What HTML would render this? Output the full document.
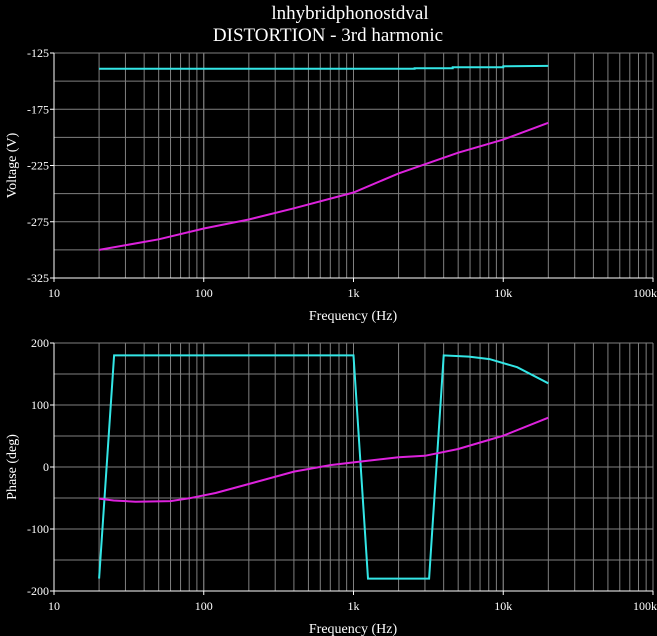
<!DOCTYPE html>
<html><head><meta charset="utf-8"><style>
html,body{margin:0;padding:0;background:#000;}
svg{display:block;font-family:"Liberation Serif",serif;}
</style></head><body>
<svg id="chart" width="657" height="636" viewBox="0 0 657 636" xmlns="http://www.w3.org/2000/svg">
<rect width="657" height="636" fill="#000"/>
<text x="350" y="19" fill="#fff" font-size="19" text-anchor="middle">lnhybridphonostdval</text>
<text x="328" y="41" fill="#fff" font-size="19" text-anchor="middle">DISTORTION - 3rd harmonic</text>
<g id="top"></g>
<g id="bot"></g>
</svg>
<script>
// Top plot data (Voltage)
const topVFreq = [20, 2560, 2560, 4600, 4600, 10000, 10000, 20000];
const topVCyan = [-139, -139, -138.5, -138.5, -137.7, -137.7, -136.8, -136.5];
const topMFreq = [20, 50, 100, 200, 400, 1000, 2000, 5000, 10000, 20000];
const topMag = [-300, -290.6, -281, -273, -263, -249, -232, -213.6, -202, -187];
// Bottom plot data (Phase)
const botCFreq = [20, 25.2, 1000, 1250, 3200, 4000, 5900, 8100, 12400, 20000];
const botCyan = [-180, 180, 180, -180, -180, 180, 178, 174, 161, 135];
const botMFreq = [20, 25, 35, 60, 80, 120, 200, 400, 700, 1000, 2000, 3000, 5000, 8000, 10000, 20000];
const botMag = [-51, -54, -56, -55, -50.5, -42, -27.5, -7.5, 3, 7.5, 15.6, 18, 29, 43.5, 50.5, 79.5];
const xTicks = ["10", "100", "1k", "10k", "100k"];
const topYTicks = [-125, -175, -225, -275, -325];
const botYTicks = [200, 100, 0, -100, -200];

const NS = "http://www.w3.org/2000/svg";
const X0 = 54, X1 = 653;
function xScale(f){ return X0 + (Math.log10(f) - 1) / 4 * (X1 - X0); }
function mk(tag, attrs, parent){ const e = document.createElementNS(NS, tag); for (const k in attrs) e.setAttribute(k, attrs[k]); parent.appendChild(e); return e; }

function plot(g, y0, y1, vmax, vmin, gridStep, yTicks, yTitle, series, name){
  const ys = v => y0 + (vmax - v) / (vmax - vmin) * (y1 - y0);
  // vertical grid
  for (let d = 1; d < 5; d++) for (let m = 1; m <= 10; m++) {
    if (d === 4 && m > 10) continue;
    const f = m * Math.pow(10, d);
    const x = xScale(f);
    if (x <= X0 + 0.5) continue;
    const l = mk("line", {x1: x, x2: x, y1: y0, y2: y1, stroke: "#808080", "stroke-width": 1}, g);
    
    
  }
  for (let v = vmax; v >= vmin; v -= gridStep) {
    const y = ys(v);
    const l = mk("line", {x1: X0, x2: X1, y1: y, y2: y, stroke: "#808080", "stroke-width": 1}, g);
    
    
  }
  const ax = mk("line", {x1: X0, x2: X0, y1: y0, y2: y1 + 1, stroke: "#fff", "stroke-width": 1}, g);
  
  
  const bx = mk("line", {x1: X0, x2: X1, y1: y1, y2: y1, stroke: "#fff", "stroke-width": 1}, g);
  
  
  yTicks.forEach(v => {
    const y = ys(v);
    mk("line", {x1: X0 - 4, x2: X0, y1: y, y2: y, stroke: "#fff"}, g);
    const t = mk("text", {x: X0 - 5, y: y + 4, fill: "#fff", "font-size": 12, "text-anchor": "end"}, g);
    t.textContent = String(v);
    
    
  });
  xTicks.forEach((s, i) => {
    const x = xScale(Math.pow(10, i + 1));
    mk("line", {x1: x, x2: x, y1: y1, y2: y1 + 4, stroke: "#fff"}, g);
    const t = mk("text", {x: i === 4 ? 657 : x, y: y1 + 19, fill: "#fff", "font-size": 12, "text-anchor": i === 4 ? "end" : "middle"}, g);
    t.textContent = s;
    
    
  });
  const xt = mk("text", {x: 353, y: y1 + 42, fill: "#fff", "font-size": 14, "text-anchor": "middle"}, g);
  xt.textContent = "Frequency (Hz)";
  
  
  const yc = (y0 + y1) / 2;
  const yt = mk("text", {x: 16, y: yc, fill: "#fff", "font-size": 14, "text-anchor": "middle", transform: "rotate(-90 16 " + yc + ")"}, g);
  yt.textContent = yTitle;
  
  
  series.forEach(s => {
    const pts = s.f.map((f, i) => xScale(f).toFixed(1) + "," + ys(s.v[i]).toFixed(1)).join(" ");
    const p = mk("polyline", {points: pts, fill: "none", stroke: s.c, "stroke-width": 2}, g);
    
    
  });
}
plot(document.getElementById("top"), 53, 278, -125, -325, 25, topYTicks, "Voltage (V)",
  [{f: topVFreq, v: topVCyan, c: "#33e6e6", n: "voltage-cyan-series"},
   {f: topMFreq, v: topMag, c: "#dd22dd", n: "voltage-magenta-series"}], "voltage");
plot(document.getElementById("bot"), 343, 591, 200, -200, 50, botYTicks, "Phase (deg)",
  [{f: botCFreq, v: botCyan, c: "#33e6e6", n: "phase-cyan-series"},
   {f: botMFreq, v: botMag, c: "#dd22dd", n: "phase-magenta-series"}], "phase");
</script>
</body></html>
